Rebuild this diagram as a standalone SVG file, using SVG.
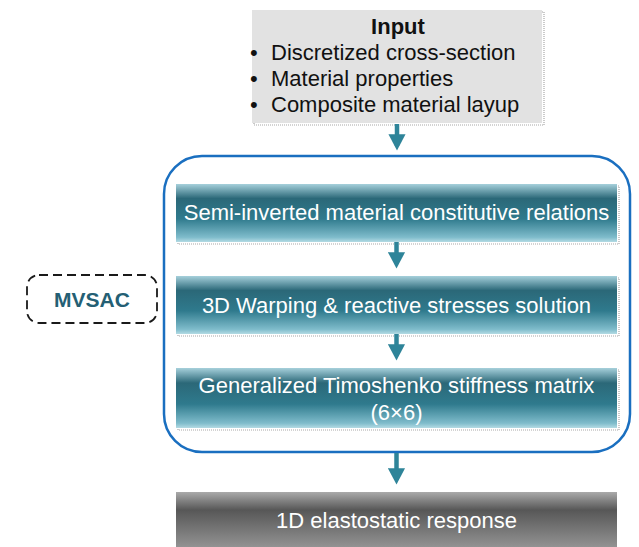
<svg xmlns="http://www.w3.org/2000/svg" width="639" height="547" viewBox="0 0 639 547">
  <style>
    .lbl { font-family: "Liberation Sans", Arial, sans-serif; font-size: 22px; }
    .dark { fill: #111111; }
    .light { fill: #ffffff; text-anchor: middle; }
    .shadow { fill: none; stroke: #a8a8a8; stroke-width: 1.2; stroke-dasharray: 1 1; }
    .conn { stroke: #2e8499; stroke-width: 4.5; fill: none; }
  </style>
  <defs>
    <linearGradient id="teal" x1="0" y1="0" x2="0" y2="1">
      <stop offset="0" stop-color="#a6d0db"/>
      <stop offset="0.25" stop-color="#2b6878"/>
      <stop offset="0.6" stop-color="#2f7a8d"/>
      <stop offset="0.92" stop-color="#7fbccb"/>
      <stop offset="1" stop-color="#b4dbe4"/>
    </linearGradient>
    <linearGradient id="grey" x1="0" y1="0" x2="0" y2="1">
      <stop offset="0" stop-color="#aaaaaa"/>
      <stop offset="0.3" stop-color="#575757"/>
      <stop offset="1" stop-color="#9a9a9a"/>
    </linearGradient>
    <marker id="head" markerWidth="4" markerHeight="4" refX="2.6" refY="2" orient="auto" markerUnits="strokeWidth">
      <path d="M0,0.1 L3.6,2 L0,3.9 Z" fill="#2e8499"/>
    </marker>
  </defs>

  <!-- input data box -->
  <g id="input">
    <rect x="254" y="12" width="290" height="113" class="shadow"/>
    <rect x="252" y="10" width="290" height="113" fill="#e2e2e2"/>
    <text class="lbl dark" x="398" y="34" text-anchor="middle" font-weight="bold">Input</text>
    <text class="lbl dark" x="250" y="60">•</text>
    <text class="lbl dark" x="271" y="60">Discretized cross-section</text>
    <text class="lbl dark" x="250" y="86">•</text>
    <text class="lbl dark" x="271" y="86">Material properties</text>
    <text class="lbl dark" x="250" y="112">•</text>
    <text class="lbl dark" x="271" y="112">Composite material layup</text>
  </g>

  <!-- MVSAC solver frame -->
  <g id="mvsac-frame">
    <rect x="164" y="156" width="466" height="296" rx="38" ry="38" fill="none" stroke="#1a6fc0" stroke-width="2.5"/>
  </g>

  <g id="mvsac-label">
    <rect x="27" y="275" width="130" height="48" rx="12" ry="12" fill="none" stroke="#1a1a1a" stroke-width="1.8" stroke-dasharray="9 5"/>
    <text x="92" y="307" text-anchor="middle" font-family="Liberation Sans, Arial, sans-serif" font-size="21" font-weight="bold" fill="#245f74">MVSAC</text>
  </g>

  <g id="step1">
    <rect x="178" y="186" width="441" height="58" class="shadow"/>
    <rect x="176" y="184" width="441" height="58" fill="url(#teal)"/>
    <text class="lbl light" x="396.5" y="220">Semi-inverted material constitutive relations</text>
  </g>

  <g id="step2">
    <rect x="178" y="278" width="441" height="58" class="shadow"/>
    <rect x="176" y="276" width="441" height="58" fill="url(#teal)"/>
    <text class="lbl light" x="396.5" y="313">3D Warping &amp; reactive stresses solution</text>
  </g>

  <g id="step3">
    <rect x="178" y="370" width="441" height="60" class="shadow"/>
    <rect x="176" y="368" width="441" height="60" fill="url(#teal)"/>
    <text class="lbl light" x="396.5" y="393">Generalized Timoshenko stiffness matrix</text>
    <text class="lbl light" x="396.5" y="420">(6×6)</text>
  </g>

  <g id="output">
    <rect x="176" y="492" width="441" height="60" fill="url(#grey)"/>
    <text class="lbl light" x="396.5" y="528">1D elastostatic response</text>
  </g>

  <g id="connectors">
    <line x1="397" y1="124" x2="397" y2="146" class="conn" marker-end="url(#head)"/>
    <line x1="396.5" y1="242" x2="396.5" y2="264" class="conn" marker-end="url(#head)"/>
    <line x1="396.5" y1="334" x2="396.5" y2="356" class="conn" marker-end="url(#head)"/>
    <line x1="396.5" y1="453" x2="396.5" y2="480" class="conn" marker-end="url(#head)"/>
  </g>
</svg>
